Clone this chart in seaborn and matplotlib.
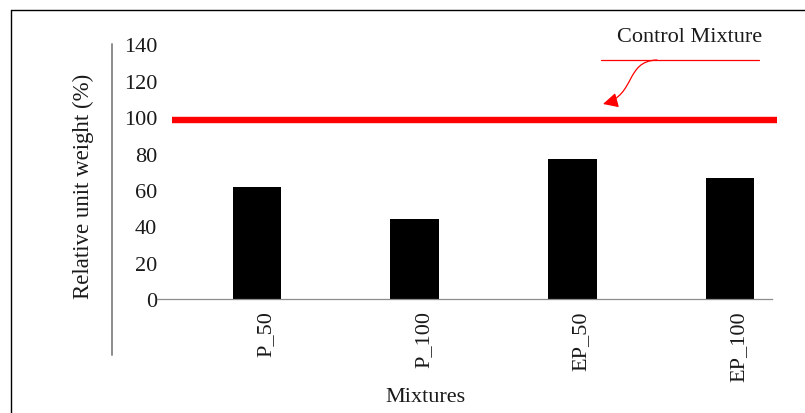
import numpy as np
import pandas as pd
import matplotlib
matplotlib.use("Agg")
import matplotlib.pyplot as plt
import matplotlib.transforms as mtransforms
from matplotlib.patches import FancyArrowPatch
from matplotlib.path import Path
from matplotlib.lines import Line2D
import seaborn as sns

# ---- data ----
categories = ["P_50", "P_100", "EP_50", "EP_100"]
unit_weight = [61.8, 44.3, 77.2, 66.4]
control_value = 98.5
y_ticks = [0, 20, 40, 60, 80, 100, 120, 140]
x_title = "Mixtures"
y_title = "Relative unit weight (%)"
control_label = "Control Mixture"

sns.set_theme(style="white")
plt.rcParams["font.family"] = ["Liberation Serif", "DejaVu Serif"]

W, H = 805, 414
fig = plt.figure(figsize=(W / 100, H / 100), dpi=100)

def px(x, y):
    return (x / W, 1 - y / H)

ax_l, ax_r, ax_t, ax_b = 157, 772, 45.3, 300.3
ax = fig.add_axes([ax_l / W, 1 - ax_b / H, (ax_r - ax_l) / W, (ax_b - ax_t) / H])

df = pd.DataFrame({"Mixture": categories, "Value": unit_weight})
sns.barplot(data=df, x="Mixture", y="Value", color="black", saturation=1,
            width=0.31, ax=ax, edgecolor="none")

ax.set_xlim(-0.634, 3.266)
ax.set_ylim(0, 140)
ax.set_yticks(y_ticks)
ax.set_yticklabels([str(t) for t in y_ticks])

for s in ["top", "right", "left"]:
    ax.spines[s].set_visible(False)
ax.spines["bottom"].set_color("#8c8c8c")
ax.spines["bottom"].set_linewidth(0.9)

ax.tick_params(axis="y", length=0, pad=0, labelsize=16, labelcolor="#1a1a1a")
ax.tick_params(axis="x", length=0, pad=8, labelsize=16, labelcolor="#1a1a1a",
               labelrotation=90)
offset = mtransforms.ScaledTranslation(9 / 100, 0, fig.dpi_scale_trans)
for lbl in ax.get_xticklabels():
    lbl.set_transform(lbl.get_transform() + offset)

# control line (extends slightly beyond the axis end)
ax.plot([-0.539, 3.297], [control_value, control_value], color="#ff0000",
        lw=4.6, solid_capstyle="butt", clip_on=False)

# axis titles
ax.set_xlabel(x_title, fontsize=16, color="#1a1a1a")
ax.xaxis.set_label_coords((425.5 - ax_l) / (ax_r - ax_l), (ax_b - 402) / (ax_b - ax_t))
ax.xaxis.label.set_va("baseline")
ax.set_ylabel(y_title, fontsize=16.5, color="#1a1a1a")
ax.yaxis.set_label_coords((83 - ax_l) / (ax_r - ax_l), (ax_b - 186) / (ax_b - ax_t))
ax.yaxis.label.set_va("center")

# separate vertical axis line at left
fig.add_artist(Line2D([px(112, 45)[0], px(112, 356)[0]], [px(112, 45)[1], px(112, 356)[1]],
                      color="#8c8c8c", lw=1.4))

# frame lines (left + top)
fig.add_artist(Line2D([px(11, 11)[0], px(11, 414)[0]], [px(11, 11)[1], px(11, 414)[1]],
                      color="black", lw=1.0))
fig.add_artist(Line2D([px(11, 11)[0], px(805, 11)[0]], [px(11, 11)[1], px(805, 11)[1]],
                      color="black", lw=1.0))

# annotation
fig.text(*px(690, 38), control_label, ha="center", va="center", fontsize=16,
         color="#1a1a1a")
fig.add_artist(Line2D([px(601, 61)[0], px(759, 61)[0]], [px(601, 61)[1], px(759, 61)[1]],
                      color="#ff0000", lw=0.9))
verts = [px(657, 61), px(625, 62), px(636, 96), px(603, 105)]
codes = [Path.MOVETO, Path.CURVE4, Path.CURVE4, Path.CURVE4]
arrow = FancyArrowPatch(path=Path(verts, codes), arrowstyle="-|>,head_length=0.9,head_width=0.45",
                        mutation_scale=10, color="#ff0000", lw=0.9,
                        transform=fig.transFigure)
fig.add_artist(arrow)

fig.savefig("out.png", dpi=100)
